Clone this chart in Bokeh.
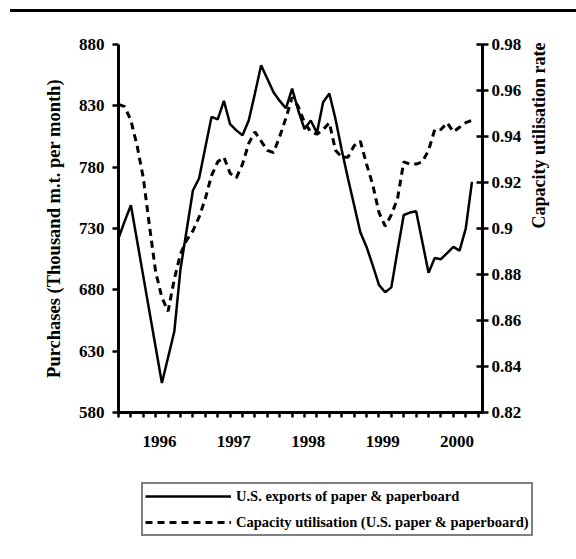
import math
from bokeh.plotting import figure
from bokeh.models import Range1d, LinearAxis, FixedTicker, Legend, LegendItem, Div
from bokeh.layouts import column
from bokeh.embed import file_html
from bokeh.resources import INLINE

# ---- data (monthly, first point = June 1995) ----
start_year = 1995
start_month = 6
exports = [722, 736, 749, 720, 691, 662, 633, 604, 625, 646,
           697, 729, 761, 771, 796, 821, 819, 834, 815, 810,
           806, 818, 840, 863, 852, 841, 834, 828, 844, 826,
           811, 818, 808, 833, 840, 819, 794, 771, 749, 727,
           715, 700, 684, 678, 682, 712, 741, 743, 744, 719,
           694, 706, 705, 710, 715, 712, 730, 768]
capacity = [0.954, 0.953, 0.947, 0.936, 0.922, 0.901, 0.881, 0.870, 0.864, 0.878,
            0.889, 0.895, 0.899, 0.905, 0.913, 0.923, 0.929, 0.931, 0.924, 0.922,
            0.928, 0.937, 0.942, 0.938, 0.934, 0.933, 0.940, 0.948, 0.957, 0.953,
            0.946, 0.942, 0.941, 0.943, 0.946, 0.934, 0.931, 0.931, 0.936, 0.938,
            0.928, 0.919, 0.907, 0.901, 0.906, 0.913, 0.929, 0.928, 0.928, 0.929,
            0.934, 0.943, 0.943, 0.946, 0.942, 0.944, 0.946, 0.947]
years = [1996, 1997, 1998, 1999, 2000]
left_ticks = [580, 630, 680, 730, 780, 830, 880]
right_ticks = [0.82, 0.84, 0.86, 0.88, 0.90, 0.92, 0.94, 0.96, 0.98]
right_labels = ["0.82", "0.84", "0.86", "0.88", "0.9", "0.92", "0.94", "0.96", "0.98"]
series_names = ["U.S. exports of paper & paperboard",
                "Capacity utilisation (U.S. paper & paperboard)"]
left_title = "Purchases (Thousand m.t. per month)"
right_title = "Capacity utilisation rate"

months = list(range(len(exports)))
year_pos = [(y - start_year) * 12 + (1 - start_month) - 0.4 for y in years]

FONT = "Liberation Serif"
SOLID = dict(line_color="black", line_width=2.5)
DASHED = dict(line_color="black", line_width=3, line_dash="7 5")

p = figure(width=576, height=448, x_range=Range1d(0, 58.7), y_range=Range1d(580, 880),
           output_backend="svg", toolbar_location=None,
           min_border_left=118, min_border_right=94, min_border_top=32, min_border_bottom=48)
p.outline_line_color = None
p.xgrid.grid_line_color = None
p.ygrid.grid_line_color = None
p.extra_y_ranges = {"cap": Range1d(0.82, 0.98)}

# bottom axis
xa = p.xaxis[0]
xa.ticker = FixedTicker(ticks=year_pos, minor_ticks=list(range(0, 59, 2)))
xa.major_label_overrides = {pos: str(y) for pos, y in zip(year_pos, years)}
xa.major_tick_in = 0
xa.major_tick_out = 0
xa.minor_tick_in = 0
xa.minor_tick_out = 5
xa.minor_tick_line_width = 2.5
xa.axis_line_width = 3
xa.major_label_standoff = 18
xa.major_label_text_font = FONT
xa.major_label_text_font_style = "bold"
xa.major_label_text_font_size = "17px"
xa.major_label_text_color = "black"

# left axis
ya = p.yaxis[0]
ya.ticker = FixedTicker(ticks=left_ticks, minor_ticks=[])
ya.major_tick_in = 0
ya.major_tick_out = 6
ya.major_tick_line_width = 2.5
ya.axis_line_width = 3
ya.major_label_standoff = 8
ya.major_label_text_font = FONT
ya.major_label_text_font_style = "bold"
ya.major_label_text_font_size = "17px"
ya.major_label_text_color = "black"
ya.axis_label = left_title
ya.axis_label_text_font = FONT
ya.axis_label_text_font_style = "bold"
ya.axis_label_text_font_size = "18.5px"
ya.axis_label_text_color = "black"
ya.axis_label_standoff = 12

# right axis
ra = LinearAxis(y_range_name="cap", ticker=FixedTicker(ticks=right_ticks, minor_ticks=[]))
ra.major_label_overrides = {t: l for t, l in zip(right_ticks, right_labels)}
ra.major_tick_in = 6
ra.major_tick_out = 6
ra.major_tick_line_width = 2.5
ra.axis_line_width = 3
ra.major_label_standoff = 3
ra.major_label_text_font = FONT
ra.major_label_text_font_style = "bold"
ra.major_label_text_font_size = "17px"
ra.major_label_text_color = "black"
ra.axis_label = right_title
ra.axis_label_text_font = FONT
ra.axis_label_text_font_style = "bold"
ra.axis_label_text_font_size = "18px"
ra.axis_label_text_color = "black"
ra.axis_label_standoff = 15
if "axis_label_orientation" in LinearAxis.properties():
    ra.axis_label_orientation = math.pi / 2
p.add_layout(ra, "right")

p.line(months, exports, **SOLID)
p.line(months, capacity, y_range_name="cap", **DASHED)

# legend in its own strip below the chart (its lines fall outside this strip's view)
lg = figure(width=576, height=95, x_range=Range1d(-2, -1), y_range=Range1d(-2, -1),
            output_backend="svg", toolbar_location=None,
            x_axis_type=None, y_axis_type=None,
            min_border_left=0, min_border_right=0, min_border_top=0, min_border_bottom=0)
lg.outline_line_color = None
lg.xgrid.grid_line_color = None
lg.ygrid.grid_line_color = None
if "frame_align" in lg.properties():
    lg.frame_align = False
    p.frame_align = False
k1 = lg.line(months, exports, **SOLID)
k2 = lg.line(months, capacity, **DASHED)
legend = Legend(items=[LegendItem(label=series_names[0], renderers=[k1]),
                       LegendItem(label=series_names[1], renderers=[k2])],
                location=(141, 19), orientation="vertical",
                glyph_width=86, glyph_height=20, label_height=20, label_standoff=5,
                spacing=6, padding=2, margin=0,
                label_text_font=FONT, label_text_font_style="bold",
                label_text_font_size="14.5px", label_text_color="black",
                border_line_color="black", border_line_width=2.5,
                background_fill_color="white", background_fill_alpha=1)
lg.add_layout(legend, "center")

topline = Div(width=566, height=3, margin=(9, 0, 0, 10),
              styles={"background-color": "black"})
layout = column(topline, p, lg, spacing=0)

open("out.html", "w").write(file_html(layout, INLINE))
